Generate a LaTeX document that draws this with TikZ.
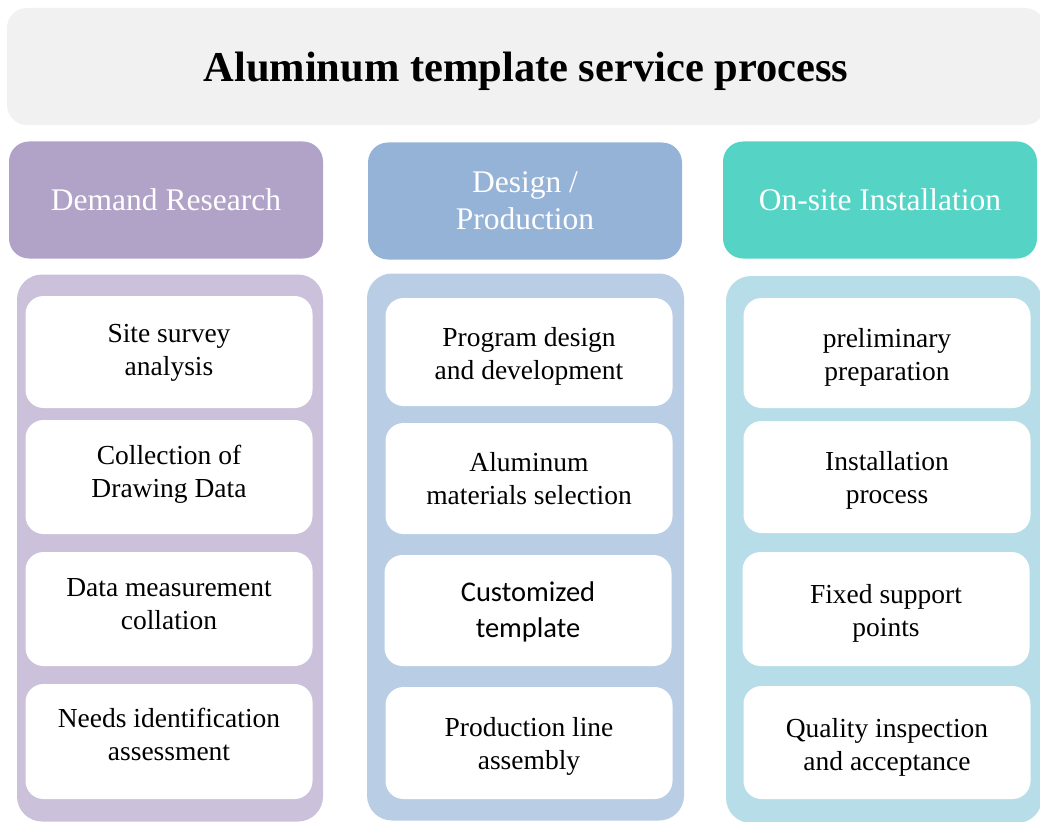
\documentclass[tikz,border=0pt]{standalone}
\usepackage{fontspec}
\setmainfont{Liberation Serif}
\newfontfamily\calfont{Carlito}
\usetikzlibrary{positioning}
\definecolor{titlegray}{HTML}{F1F1F1}
\definecolor{demandhead}{HTML}{B1A2C8}
\definecolor{demandback}{HTML}{CCC1DA}
\definecolor{designhead}{HTML}{95B3D7}
\definecolor{designback}{HTML}{B9CDE5}
\definecolor{sitehead}{HTML}{55D4C6}
\definecolor{siteback}{HTML}{B7DEE8}
\newcommand{\itemtext}[2]{\raisebox{#1}[\height][\depth]{\begin{tabular}{@{}c@{}}#2\end{tabular}}}
\tikzset{
  titlebox/.style={fill=titlegray, rounded corners=20pt, minimum width=1038pt, minimum height=117pt,
    font=\fontsize{42.5}{50}\selectfont\bfseries},
  headbox/.style={rounded corners=20pt, minimum width=314pt, minimum height=117pt, text=white,
    align=center, font=\fontsize{31.5}{37}\selectfont},
  panelbox/.style={rounded corners=25pt, minimum height=547pt},
  itembox/.style={fill=white, rounded corners=18pt, minimum width=287pt, minimum height=112pt,
    align=center, font=\fontsize{27.5}{33}\selectfont}
}
\begin{document}
\begin{tikzpicture}[x=1pt,y=-1pt]
\useasboundingbox (0,0) rectangle (1040,821);
% title
\node[titlebox] (title) at (526,66.5) {\raisebox{-5pt}[\height][\depth]{Aluminum template service process}};
% headers
\node[headbox, fill=demandhead] (hdemand) at (166,200) {Demand Research};
\node[headbox, fill=designhead] (hdesign) at (525,201) {Design /\\Production};
\node[headbox, fill=sitehead] (hsite) at (880,200) {On-site Installation};
% backgrounds
\node[panelbox, fill=demandback, minimum width=306pt] (pdemand) at (170,548) {};
\node[panelbox, fill=designback, minimum width=317pt] (pdesign) at (525.5,547) {};
\node[panelbox, fill=siteback, minimum width=316pt] (psite) at (884,549.5) {};
% demand research
\node[itembox] (d1) at (169,352) {\itemtext{0pt}{Site survey\\analysis}};
\node[itembox, minimum height=114pt] (d2) at (169,477) {\itemtext{3pt}{Collection of\\Drawing Data}};
\node[itembox, minimum height=114pt] (d3) at (169,609) {\itemtext{3pt}{Data measurement\\collation}};
\node[itembox, minimum height=115pt] (d4) at (169,741.5) {\itemtext{4pt}{Needs identification\\assessment}};
% design / production
\node[itembox, minimum height=108pt] (m1) at (529,352) {\itemtext{-4pt}{Program design\\and development}};
\node[itembox, minimum height=111pt] (m2) at (529,478.5) {\itemtext{-3pt}{Aluminum\\materials selection}};
\node[itembox, minimum height=111pt, font=\calfont\fontsize{28.5}{36}\selectfont] (m3) at (528,610.5)
  {\itemtext{-2pt}{Customized\\template}};
\node[itembox] (m4) at (529,743) {\itemtext{-3pt}{Production line\\assembly}};
% on-site installation
\node[itembox, minimum height=110pt] (s1) at (887,353) {\itemtext{-4pt}{preliminary\\preparation}};
\node[itembox] (s2) at (887,477) {\itemtext{-3pt}{Installation\\process}};
\node[itembox, minimum height=114pt] (s3) at (886,609) {\itemtext{-4pt}{Fixed support\\points}};
\node[itembox, minimum height=113pt] (s4) at (887,742.5) {\itemtext{-5pt}{Quality inspection\\and acceptance}};
\end{tikzpicture}
\end{document}
